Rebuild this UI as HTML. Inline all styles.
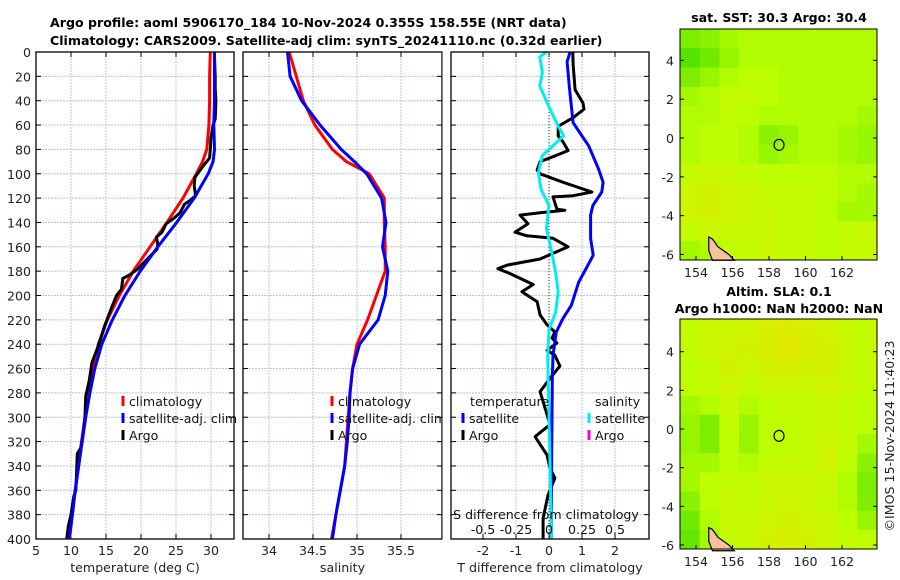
<!DOCTYPE html>
<html><head><meta charset="utf-8">
<style>
html,body{margin:0;padding:0;background:#fff;}
svg{display:block;font-family:"DejaVu Sans","Liberation Sans",sans-serif;}
</style></head>
<body>
<svg id="fig" width="900" height="580" viewBox="0 0 900 580" xmlns="http://www.w3.org/2000/svg">
<text x="50" y="27" font-size="12.6" font-weight="bold" fill="#000">Argo profile: aoml 5906170_184 10-Nov-2024 0.355S 158.55E (NRT data)</text>
<text x="50" y="45" font-size="12.6" font-weight="bold" fill="#000">Climatology: CARS2009. Satellite-adj clim: synTS_20241110.nc (0.32d earlier)</text>
<g id="p1"></g>
<g id="p2"></g>
<g id="p3"></g>
<g id="m1"></g>
<g id="m2"></g>
<text x="779" y="22" font-size="12.6" font-weight="bold" text-anchor="middle">sat. SST: 30.3 Argo: 30.4</text>
<text x="779" y="296" font-size="12.6" font-weight="bold" text-anchor="middle">Altim. SLA: 0.1</text>
<text x="779" y="313" font-size="12.6" font-weight="bold" text-anchor="middle">Argo h1000: NaN h2000: NaN</text>
<text transform="translate(894,436) rotate(-90)" font-size="12.6" text-anchor="middle" fill="#222">©IMOS 15-Nov-2024 11:40:23</text>
</svg>
<script>
// ---------- DATA ----------
const depthTicks = [0,20,40,60,80,100,120,140,160,180,200,220,240,260,280,300,320,340,360,380,400];
const tempTicks = [5,10,15,20,25,30];
const salTicks = [34,34.5,35,35.5];
const tdiffTicks = [-2,-1,0,1,2];
const sdiffTicks = [-0.5,-0.25,0,0.25,0.5];
const sdiffLabels = ["-0.5","-0.25","0","0.25","0.5"];

const climDepth = [0,20,40,60,80,90,100,120,140,160,180,200,220,240,260,280,300,320,340,360,380,400];
const climTemp  = [29.9,29.8,29.8,29.7,29.4,28.8,27.9,26.0,23.7,21.3,18.9,16.9,15.2,13.9,13.2,12.6,12.0,11.5,11.1,10.6,10.2,9.8];
const satTemp   = [30.5,30.5,30.5,30.4,30.5,30.3,29.6,27.6,25.1,22.4,19.9,17.7,15.9,14.4,13.4,12.7,12.1,11.6,11.1,10.6,10.2,9.7];
const argoDepth = [5,20,30,40,55,60,70,80,87,95,103,110,118,122,125,132,137,141,148,152,158,162,170,178,183,186,195,200,210,225,240,255,270,283,300,315,325,330,345,360,365,380,390,400];
const argoTemp  = [30.5,30.6,30.6,30.7,30.6,30.3,30.0,29.9,29.8,28.7,27.7,27.6,27.8,27.0,26.2,25.6,24.6,23.6,23.0,22.2,22.4,22.3,20.9,19.6,18.4,17.4,17.2,16.5,15.8,14.8,14.0,13.0,12.6,12.1,12.0,11.7,11.4,10.9,10.8,10.7,10.4,10.0,9.6,9.4];

const climSal = [34.23,34.31,34.39,34.52,34.72,34.88,35.14,35.31,35.31,35.32,35.32,35.22,35.12,35.0,34.95,34.92,34.9,34.88,34.86,34.81,34.76,34.71];
const satSal  = [34.21,34.24,34.37,34.58,34.82,34.97,35.11,35.28,35.33,35.29,35.35,35.32,35.24,35.03,34.95,34.92,34.91,34.89,34.86,34.81,34.76,34.72];

const diffDepth = [0,8,30,58,69,77,96,107,115,126,134,153,167,176,189,208,219,230,249,268,300,340,385,400];
const satTdiff  = [0.64,0.55,0.62,0.73,1.0,1.2,1.5,1.64,1.6,1.33,1.26,1.26,1.34,1.16,0.9,0.68,0.42,0.22,0.12,0.1,0.09,0.08,0.07,0.07];
const sDiffDepth = [0,4,17,28,45,61,69,80,85,99,113,126,145,164,181,197,214,228,250,300,350,400];
const satSdiff   = [-0.02,-0.07,-0.05,-0.07,0.0,0.07,0.11,0.0,-0.05,-0.08,-0.06,0.0,-0.02,0.02,0.05,0.07,0.05,0.0,-0.01,0.0,0.01,0.02];
const argoDiffDepth = [0,10,31,42,47,54,61,69,74,81,86,90,97,100,107,115,118,119,129,130,132,134,141,148,151,153,160,170,175,178,182,191,197,205,216,224,230,235,239,245,249,258,268,279,306,316,331,342,350,364,383,400];
const argoTdiff     = [0.72,0.73,0.79,1.03,1.06,0.73,0.28,0.28,0.43,0.58,0.12,-0.27,-0.36,-0.27,0.43,1.3,0.73,0.12,0.24,0.48,-0.27,-0.88,-0.64,-1.03,-0.67,0.12,0.58,-0.27,-1.27,-1.55,-1.18,-0.48,-0.82,-0.36,-0.27,-0.06,0.18,0.09,0.24,-0.06,0.18,0.33,0.03,-0.27,0.03,-0.42,-0.06,0.03,0.18,-0.03,-0.18,-0.18];

const lonTicks = [154,156,158,160,162];
const latTicks = [4,2,0,-2,-4,-6];
const argoLon = 158.55, argoLat = -0.355;
const sstGrid = [
 [.25,.3,.4,.45,.45,.45,.45,.45,.45,.45],
 [.1,.2,.35,.45,.45,.45,.45,.45,.45,.45],
 [.25,.35,.45,.5,.5,.45,.45,.45,.45,.45],
 [.4,.45,.55,.55,.5,.45,.45,.45,.45,.45],
 [.45,.45,.55,.5,.45,.45,.45,.45,.45,.4],
 [.45,.5,.5,.45,.3,.35,.45,.45,.4,.35],
 [.45,.5,.5,.45,.35,.4,.45,.45,.4,.35],
 [.55,.6,.6,.55,.5,.5,.5,.5,.45,.45],
 [.65,.7,.65,.6,.55,.55,.55,.5,.45,.4],
 [.65,.7,.65,.6,.6,.55,.55,.5,.4,.4],
 [.55,.6,.6,.6,.6,.55,.55,.5,.55,.6],
 [.4,.45,.55,.55,.6,.55,.55,.5,.55,.55]];
const slaGrid = [
 [.55,.6,.6,.65,.75,.8,.75,.65,.6,.55],
 [.55,.6,.65,.7,.75,.85,.75,.7,.6,.55],
 [.5,.55,.7,.65,.7,.75,.7,.7,.6,.55],
 [.5,.55,.65,.55,.6,.6,.6,.65,.6,.55],
 [.4,.45,.6,.45,.5,.55,.55,.6,.55,.5],
 [.35,.25,.55,.35,.5,.5,.55,.6,.55,.5],
 [.35,.25,.5,.35,.5,.5,.55,.65,.55,.4],
 [.4,.4,.5,.45,.55,.55,.55,.65,.5,.3],
 [.4,.5,.55,.55,.6,.6,.6,.6,.45,.25],
 [.3,.5,.6,.55,.6,.65,.6,.55,.45,.25],
 [.2,.45,.6,.6,.65,.7,.65,.6,.5,.35],
 [.15,.4,.55,.6,.7,.75,.7,.6,.55,.5]];

// ---------- HELPERS ----------
const NS="http://www.w3.org/2000/svg";
function mk(parent,tag,attrs){const e=document.createElementNS(NS,tag);for(const k in attrs)e.setAttribute(k,attrs[k]);parent.appendChild(e);return e;}
const PT=52, PB=539;
const FS=12.6;
function yD(d){return PT+(d/400)*(PB-PT);}
function poly(g,xs,ds,xf,color,name,w){
  const pts=xs.map((v,i)=>xf(v).toFixed(1)+","+yD(ds[i]).toFixed(1)).join(" ");
  const p=mk(g,"polyline",{points:pts,fill:"none",stroke:color,"stroke-width":w||3,"stroke-linejoin":"round"});
  
  
}
function panel(g,x0,x1,xticks,xf,xlabels,xtitle,showY){
  mk(g,"rect",{x:x0,y:PT,width:x1-x0,height:PB-PT,fill:"#fff"});
  depthTicks.forEach(d=>{const y=yD(d);
    mk(g,"line",{x1:x0,x2:x1,y1:y,y2:y,stroke:"#b8c4dc","stroke-width":1,"stroke-dasharray":"2,1"});
    mk(g,"line",{x1:x0,x2:x0+5,y1:y,y2:y,stroke:"#000"});
    mk(g,"line",{x1:x1-5,x2:x1,y1:y,y2:y,stroke:"#000"});
    if(showY){const t=mk(g,"text",{x:x0-5,y:y+5,"font-size":FS,"text-anchor":"end",fill:"#222"});t.textContent=d;
      
      }
  });
  xticks.forEach((v,i)=>{const x=xf(v);
    mk(g,"line",{x1:x,x2:x,y1:PT,y2:PB,stroke:"#b8c4dc","stroke-width":1,"stroke-dasharray":"2,1"});
    mk(g,"line",{x1:x,x2:x,y1:PB-5,y2:PB,stroke:"#000"});
    mk(g,"line",{x1:x,x2:x,y1:PT,y2:PT+5,stroke:"#000"});
    const t=mk(g,"text",{x:x,y:PB+16,"font-size":FS,"text-anchor":"middle",fill:"#222"});t.textContent=xlabels[i];
    
    
  });
  const tt=mk(g,"text",{x:(x0+x1)/2,y:PB+33,"font-size":FS,"text-anchor":"middle",fill:"#222"});tt.textContent=xtitle;
  
  
}
function frame(g,x0,x1){mk(g,"rect",{x:x0,y:PT,width:x1-x0,height:PB-PT,fill:"none",stroke:"#000","stroke-width":1.3});}
function legend(g,x,y,color,label){
  mk(g,"rect",{x:x-1.5,y:y-10,width:3,height:10,fill:color});
  const t=mk(g,"text",{x:x+6,y:y,"font-size":FS,fill:"#111"});t.textContent=label;
  
  
}

// ---------- PANEL 1 ----------
const g1=document.getElementById("p1");
const xT=v=>36+(v-5)*7;
panel(g1,36,234,tempTicks,xT,tempTicks.map(String),"temperature (deg C)",true);
poly(g1,climTemp,climDepth,xT,"#f00","temperature-climatology-line");
poly(g1,argoTemp,argoDepth,xT,"#000","temperature-argo-line");
poly(g1,satTemp,climDepth,xT,"#00f","temperature-satellite-line");
frame(g1,36,234);

// ---------- PANEL 2 ----------
const g2=document.getElementById("p2");
const xS=v=>269+(v-34)*88;
panel(g2,243,442,salTicks,xS,salTicks.map(String),"salinity",false);
poly(g2,climSal,climDepth,xS,"#f00","salinity-climatology-line");
poly(g2,satSal,climDepth,xS,"#00f","salinity-satellite-line");
frame(g2,243,442);
legend(g1,123,406,"#f00","climatology");
legend(g1,123,423,"#00f","satellite-adj. clim");
legend(g1,123,440,"#000","Argo");
legend(g2,332,406,"#f00","climatology");
legend(g2,332,423,"#00f","satellite-adj. clim");
legend(g2,332,440,"#000","Argo");

// ---------- PANEL 3 ----------
const g3=document.getElementById("p3");
const xTD=v=>549+v*33;
const xSD=v=>549+v*132;
mk(g3,"rect",{x:442.5,y:PT-2,width:8,height:PB-PT+40,fill:"#fff"});
panel(g3,451,649,tdiffTicks,xTD,tdiffTicks.map(String),"T difference from climatology",false);
mk(g3,"line",{x1:549,x2:549,y1:PT,y2:PB,stroke:"#333","stroke-width":1,"stroke-dasharray":"1,2"});
poly(g3,argoTdiff,argoDiffDepth,xTD,"#000","argo-tdiff-line");
poly(g3,satTdiff,diffDepth,xTD,"#00f","satellite-tdiff-line");
poly(g3,satSdiff,sDiffDepth,xSD,"#0ee","satellite-sdiff-line");
const st=mk(g3,"text",{x:546,y:519,"font-size":FS,"text-anchor":"middle",fill:"#111"});st.textContent="S difference from climatology";


sdiffTicks.forEach((v,i)=>{const t=mk(g3,"text",{x:xSD(v),y:534,"font-size":FS,"text-anchor":"middle",fill:"#111"});t.textContent=sdiffLabels[i];
  
  });
const lt=mk(g3,"text",{x:470,y:406,"font-size":FS,fill:"#111"});lt.textContent="temperature";


const ls=mk(g3,"text",{x:595,y:406,"font-size":FS,fill:"#111"});ls.textContent="salinity";


legend(g3,463,423,"#00f","satellite");
legend(g3,463,440,"#000","Argo");
legend(g3,589,423,"#0ee","satellite");
legend(g3,589,440,"#f0c","Argo");
frame(g3,451,649);

// ---------- MAPS ----------
function col(t){
  let r,g,b=0;
  if(t<0.5){const u=t/0.5;r=60+u*(190-60);g=220+u*(255-220);}
  else{const u=(t-0.5)/0.5;r=190+u*(240-190);g=255-u*(255-225);}
  return "rgb("+Math.round(r)+","+Math.round(g)+","+b+")";
}
function map(gid,top,bottom,lat0y,grid){
  const g=document.getElementById(gid);
  const L=680,R=877;
  const xL=lon=>696+(lon-154)*18.25;
  const pxPerLat=(bottom-top)/(5.6+6.3);
  const yL=lat=>lat0y-lat*pxPerLat;
  const rows=grid.length, cols=grid[0].length;
  const cw=(R-L)/cols, ch=(bottom-top)/rows;
  grid.forEach((row,i)=>row.forEach((v,j)=>{
    const c=mk(g,"rect",{x:L+j*cw,y:top+i*ch,width:cw+0.5,height:ch+0.5,fill:col(v)});
    
    
  }));
  const land=[[154.7,-5.1],[154.9,-5.2],[155.2,-5.6],[155.8,-6.0],[156.1,-6.3],[154.9,-6.3],[154.7,-5.8]];
  const lp=mk(g,"polygon",{points:land.map(p=>xL(p[0])+","+yL(p[1])).join(" "),fill:"#f5c29a",stroke:"#000","stroke-width":1.2});
  
  
  const ci=mk(g,"ellipse",{cx:xL(argoLon),cy:yL(argoLat),rx:5,ry:5.5,fill:"none",stroke:"#000","stroke-width":1.2});
  
  
  mk(g,"rect",{x:L,y:top,width:R-L,height:bottom-top,fill:"none",stroke:"#000","stroke-width":1});
  lonTicks.forEach(v=>{const x=xL(v);
    mk(g,"line",{x1:x,x2:x,y1:bottom-4,y2:bottom,stroke:"#000"});
    const t=mk(g,"text",{x:x,y:bottom+17,"font-size":FS,"text-anchor":"middle",fill:"#222"});t.textContent=v;
    
    });
  latTicks.forEach(v=>{const y=yL(v);
    mk(g,"line",{x1:L,x2:L+4,y1:y,y2:y,stroke:"#000"});
    mk(g,"line",{x1:R-4,x2:R,y1:y,y2:y,stroke:"#000"});
    const t=mk(g,"text",{x:L-6,y:y+5,"font-size":FS,"text-anchor":"end",fill:"#222"});t.textContent=v;
    
    });
}
map("m1",29,260,138,sstGrid);
map("m2",319,549,429,slaGrid);
</script>
</body></html>
